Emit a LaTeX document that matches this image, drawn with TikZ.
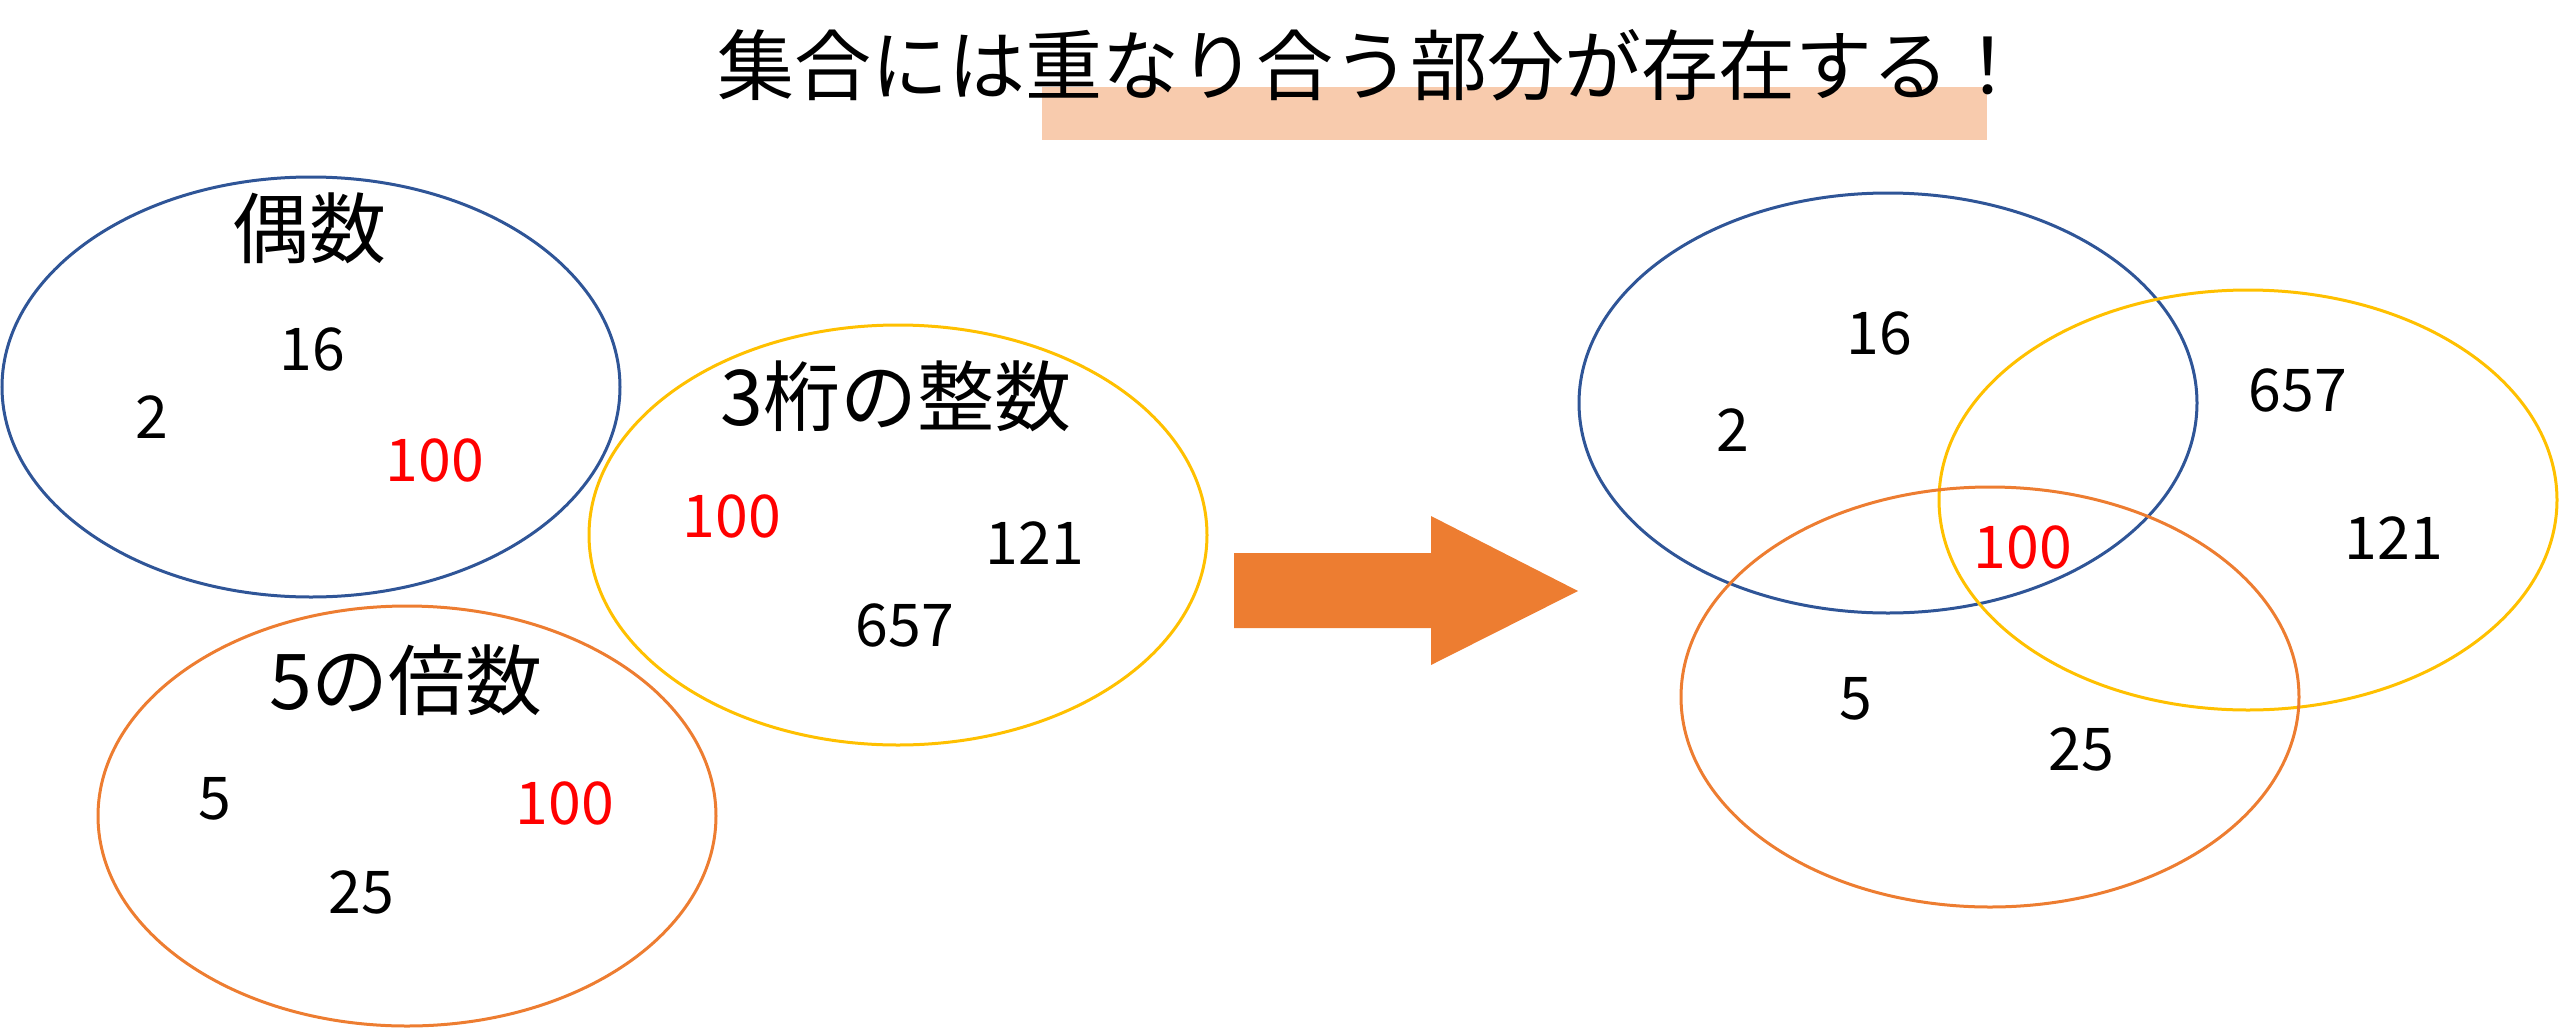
\documentclass[tikz,border=0pt]{standalone}
\usepackage{fontspec}
\setmainfont{Noto Sans CJK JP}
\definecolor{cblue}{HTML}{2F5597}
\definecolor{cyellow}{HTML}{FFC000}
\definecolor{corange}{HTML}{ED7D31}
\definecolor{cred}{HTML}{FF0000}
\definecolor{chl}{HTML}{F8CBAD}
\begin{document}
\begin{tikzpicture}[x=1pt,y=-1pt,
  blueset/.style={draw=cblue, line width=3pt},
  yellowset/.style={draw=cyellow, line width=3pt},
  orangeset/.style={draw=corange, line width=3pt},
  titletext/.style={font=\fontsize{77}{80}\selectfont, inner sep=0pt},
  lbl/.style={font=\fontsize{77}{80}\selectfont, inner sep=0pt},
  num/.style={font=\fontsize{59}{62}\selectfont, inner sep=0pt},
  hit/.style={num, text=cred}]
\useasboundingbox (0,0) rectangle (2560,1028);
% highlight bar
\fill[chl] (1042,87) rectangle (1987,140);
\node[titletext] (title) at (1372,65) {集合には重なり合う部分が存在する！};
% left: even numbers
\draw[blueset] (311,387) ellipse [x radius=309pt, y radius=210pt];
\node[lbl] (even) at (309,228) {偶数};
\node[num] (e16) at (312,349) {16};
\node[num] (e2) at (152,417) {2};
\node[hit] (e100) at (435,460) {100};
% three-digit integers
\draw[yellowset] (898,535) ellipse [x radius=309pt, y radius=210pt];
\node[lbl] (three) at (896,396) {3桁の整数};
\node[hit] (t100) at (732,516) {100};
\node[num] (t121) at (1035,543) {121};
\node[num] (t657) at (905,625) {657};
% multiples of 5
\draw[orangeset] (407,816) ellipse [x radius=309pt, y radius=210pt];
\node[lbl] (five) at (406,680) {5の倍数};
\node[num] (f5) at (215,799) {5};
\node[hit] (f100) at (565,803) {100};
\node[num] (f25) at (361,892) {25};
% arrow
\fill[corange] (1234,553) -- (1431,553) -- (1431,516) -- (1578,591)
  -- (1431,665) -- (1431,628) -- (1234,628) -- cycle;
% right: Venn diagram
\draw[blueset] (1888,403) ellipse [x radius=309pt, y radius=210pt];
\draw[yellowset] (2248,500) ellipse [x radius=309pt, y radius=210pt];
\draw[orangeset] (1990,697) ellipse [x radius=309pt, y radius=210pt];
\node[num] (v16) at (1879,333) {16};
\node[num] (v2) at (1733,430) {2};
\node[num] (v657) at (2298,390) {657};
\node[num] (v121) at (2394,538) {121};
\node[hit] (v100) at (2023,547) {100};
\node[num] (v5) at (1856,699) {5};
\node[num] (v25) at (2081,749) {25};
\end{tikzpicture}
\end{document}
